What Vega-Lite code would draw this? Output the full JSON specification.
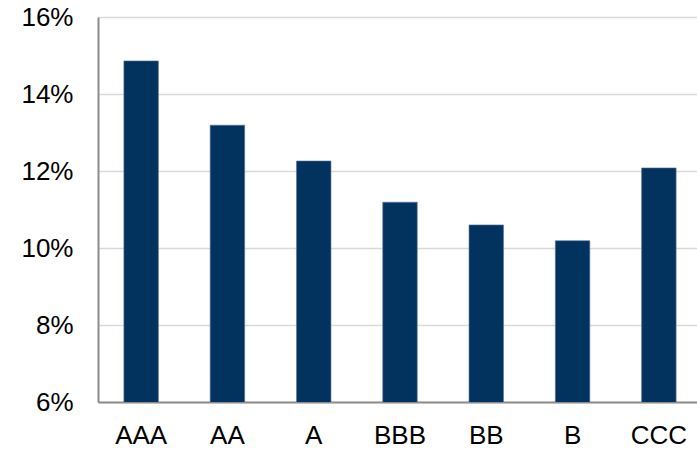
{
  "$schema": "https://vega.github.io/schema/vega-lite/v6.json",
  "width": 604,
  "height": 385,
  "autosize": {"type": "none"},
  "padding": {"left": 98, "top": 17, "right": 0, "bottom": 50},
  "background": "white",
  "config": {
    "view": {"stroke": null},
    "font": "Liberation Sans"
  },
  "data": {
    "values": [
      {"rating": "AAA", "rate": 0.1486},
      {"rating": "AA", "rate": 0.1319},
      {"rating": "A", "rate": 0.1226},
      {"rating": "BBB", "rate": 0.1119},
      {"rating": "BB", "rate": 0.1060},
      {"rating": "B", "rate": 0.1019},
      {"rating": "CCC", "rate": 0.1208}
    ]
  },
  "mark": {"type": "bar", "color": "#02335f", "stroke": "#5a7a99", "strokeWidth": 0.6, "clip": true},
  "encoding": {
    "x": {
      "field": "rating",
      "type": "nominal",
      "sort": null,
      "scale": {"paddingInner": 0.6, "paddingOuter": 0.3},
      "axis": {
        "title": null,
        "labelAngle": 0,
        "labelFontSize": 26,
        "labelColor": "#000000",
        "labelPadding": 20,
        "ticks": false,
        "grid": false,
        "domainColor": "#8c8c8c",
        "domainWidth": 2
      }
    },
    "y": {
      "field": "rate",
      "type": "quantitative",
      "scale": {"domain": [0.06, 0.16], "nice": false, "zero": false},
      "axis": {
        "title": null,
        "values": [0.06, 0.08, 0.10, 0.12, 0.14, 0.16],
        "format": ".0%",
        "labelFontSize": 26,
        "labelColor": "#000000",
        "labelPadding": 25,
        "ticks": false,
        "grid": true,
        "gridColor": "#d9d9d9",
        "gridWidth": 1.5,
        "domainColor": "#8c8c8c",
        "domainWidth": 2
      }
    }
  }
}
